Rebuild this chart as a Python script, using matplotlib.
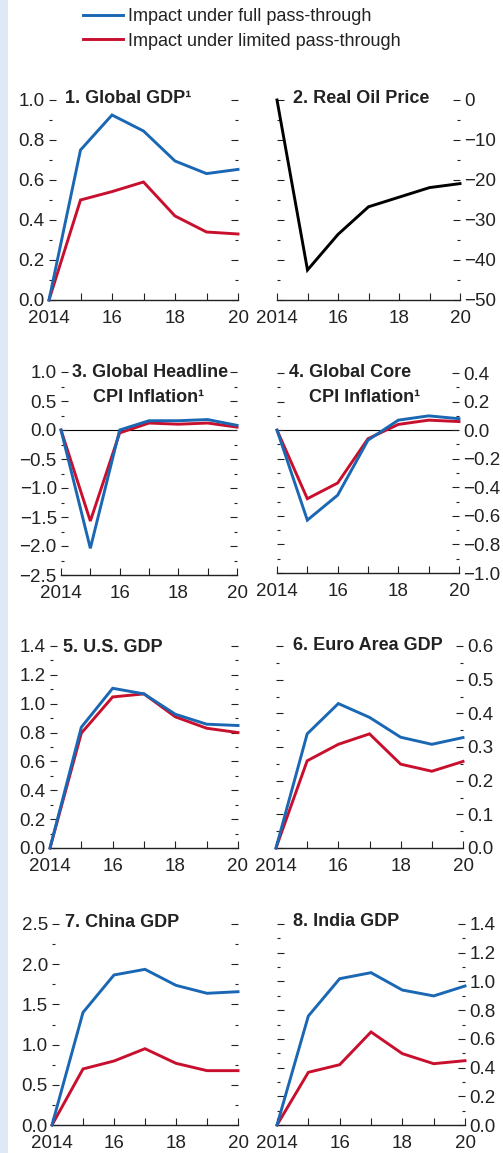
import matplotlib
matplotlib.use('Agg')
import matplotlib.pyplot as plt
from matplotlib.ticker import MultipleLocator, FixedLocator, FixedFormatter, FuncFormatter
from matplotlib import font_manager as fm
from matplotlib.patches import Rectangle

# ---------------- data ----------------
years = [2014, 2015, 2016, 2017, 2018, 2019, 2020]
xtick_labels = ["2014", "", "16", "", "18", "", "20"]
legend_labels = ["Impact under full pass-through", "Impact under limited pass-through"]

global_gdp_full = [0, 0.75, 0.925, 0.845, 0.695, 0.632, 0.653]
global_gdp_limited = [0, 0.50, 0.542, 0.59, 0.42, 0.34, 0.33]
oil_price = [0, -42.5, -33.6, -26.7, -24.3, -21.9, -20.9]
headline_full = [0, -2.04, 0.0, 0.16, 0.16, 0.18, 0.08]
headline_limited = [0, -1.57, -0.05, 0.12, 0.10, 0.12, 0.05]
core_full = [0, -0.63, -0.455, -0.07, 0.07, 0.10, 0.08]
core_limited = [0, -0.48, -0.37, -0.06, 0.04, 0.07, 0.06]
us_full = [0, 0.837, 1.107, 1.068, 0.927, 0.858, 0.849]
us_limited = [0, 0.796, 1.047, 1.068, 0.909, 0.83, 0.80]
euro_full = [0, 0.339, 0.429, 0.388, 0.329, 0.308, 0.328]
euro_limited = [0, 0.259, 0.308, 0.339, 0.249, 0.228, 0.257]
china_full = [0, 1.40, 1.866, 1.936, 1.737, 1.638, 1.658]
china_limited = [0, 0.697, 0.796, 0.949, 0.767, 0.676, 0.676]
india_full = [0, 0.759, 1.019, 1.061, 0.940, 0.899, 0.968]
india_limited = [0, 0.367, 0.420, 0.648, 0.497, 0.427, 0.448]

BLUE = '#1a67b3'
RED = '#c8102e'

names = {f.name for f in fm.fontManager.ttflist}
BASE = 'Liberation Sans' if 'Liberation Sans' in names else 'DejaVu Sans'
if 'Liberation Sans Narrow' in names:
    TFONT, TSIZE = 'Liberation Sans Narrow', 14.5
else:
    TFONT, TSIZE = BASE, 13

plt.rcParams['font.family'] = [BASE, 'DejaVu Sans']
plt.rcParams['axes.unicode_minus'] = True

W, H = 503, 1153
fig = plt.figure(figsize=(W / 100, H / 100), dpi=100)
fig.patch.set_facecolor('white')
fig.add_artist(Rectangle((0, 0), 8 / W, 1, transform=fig.transFigure,
                         facecolor='#dfe9f5', edgecolor='none', zorder=0))


def rect(x0, x1, y0, y1):
    return [x0 / W, 1 - y1 / H, (x1 - x0) / W, (y1 - y0) / H]


def fmt_factory(dec):
    def f(v, pos):
        s = f"{v:.{dec}f}"
        if float(s) == 0:
            s = f"{0:.{dec}f}"
        return s.replace('-', '\u2212')
    return FuncFormatter(f)


panels = [
    dict(r=rect(49, 238, 100, 300), ylim=(0, 1.0), maj=0.2, mn=0.1, dec=1, side='left',
         series=[(global_gdp_limited, RED), (global_gdp_full, BLUE)]),
    dict(r=rect(277, 460, 100, 300), ylim=(-50, 0), maj=10, mn=5, dec=0, side='right',
         series=[(oil_price, 'black')]),
    dict(r=rect(61, 237, 372, 575), ylim=(-2.5, 1.0), maj=0.5, mn=0.25, dec=1, side='left',
         series=[(headline_limited, RED), (headline_full, BLUE)], zero=True),
    dict(r=rect(277, 459, 373, 573), ylim=(-1.0, 0.4), maj=0.2, mn=0.1, dec=1, side='right',
         series=[(core_limited, RED), (core_full, BLUE)], zero=True),
    dict(r=rect(50, 238, 646, 848), ylim=(0, 1.4), maj=0.2, mn=0.1, dec=1, side='left',
         series=[(us_limited, RED), (us_full, BLUE)]),
    dict(r=rect(276, 463, 646, 848), ylim=(0, 0.6), maj=0.1, mn=0.05, dec=1, side='right',
         series=[(euro_limited, RED), (euro_full, BLUE)]),
    dict(r=rect(52, 238, 924, 1125), ylim=(0, 2.5), maj=0.5, mn=0.25, dec=1, side='left',
         series=[(china_limited, RED), (china_full, BLUE)]),
    dict(r=rect(277, 465, 924, 1125), ylim=(0, 1.4), maj=0.2, mn=0.1, dec=1, side='right',
         series=[(india_limited, RED), (india_full, BLUE)]),
]

handles = {}
for p in panels:
    ax = fig.add_axes(p['r'])
    ax.set_facecolor('none')
    if p.get('zero'):
        ax.axhline(0, color='black', lw=0.8, zorder=1)
    for vals, col in p['series']:
        ln, = ax.plot(years, vals, color=col, lw=2.1, solid_joinstyle='miter',
                      zorder=3, clip_on=False)
        handles.setdefault(col, ln)
    ax.set_xlim(2014, 2020)
    ax.set_ylim(*p['ylim'])
    for s in ('left', 'right', 'top'):
        ax.spines[s].set_visible(False)
    ax.spines['bottom'].set_linewidth(1.0)
    ax.spines['bottom'].set_color('#222222')
    ax.xaxis.set_major_locator(FixedLocator(years))
    ax.xaxis.set_major_formatter(FixedFormatter(xtick_labels))
    ax.yaxis.set_major_locator(MultipleLocator(p['maj']))
    ax.yaxis.set_minor_locator(MultipleLocator(p['mn']))
    ax.yaxis.set_major_formatter(fmt_factory(p['dec']))
    ax.tick_params(axis='x', which='major', direction='in', length=5, width=0.8,
                   color='#222222', labelsize=13.5, pad=7.5, top=False,
                   labelcolor='#222222')
    left_lab = p['side'] == 'left'
    ax.tick_params(axis='y', which='both', direction='in', left=True, right=True,
                   labelleft=left_lab, labelright=not left_lab, color='#222222',
                   width=0.8, labelsize=13.5, pad=3, labelcolor='#222222')
    ax.tick_params(axis='y', which='major', length=5)
    ax.tick_params(axis='y', which='minor', length=2)
    p['ax'] = ax


def px(x, y):
    return x / W, 1 - y / H


def title(x, y, s, ha='left'):
    fig.text(*px(x, y), s, ha=ha, va='baseline', fontsize=TSIZE,
             fontweight='bold', family=[TFONT, 'DejaVu Sans'], color='#222222')


title(65, 103, '1. Global GDP\u00b9')
title(293, 103, '2. Real Oil Price')
title(150, 377, '3. Global Headline', ha='center')
title(149, 402, 'CPI Inflation\u00b9', ha='center')
title(350, 377, '4. Global Core', ha='center')
title(365, 402, 'CPI Inflation\u00b9', ha='center')
title(63, 652, '5. U.S. GDP')
title(293, 650, '6. Euro Area GDP')
title(65, 927, '7. China GDP')
title(293, 926, '8. India GDP')

fig.legend([handles[BLUE], handles[RED]], legend_labels, loc='upper left',
           bbox_to_anchor=px(83, 8), frameon=False, fontsize=13,
           handlelength=2.2, handletextpad=0.3, labelspacing=0.42,
           borderpad=0, borderaxespad=0, labelcolor='#222222')

fig.savefig('out.png', dpi=100)
